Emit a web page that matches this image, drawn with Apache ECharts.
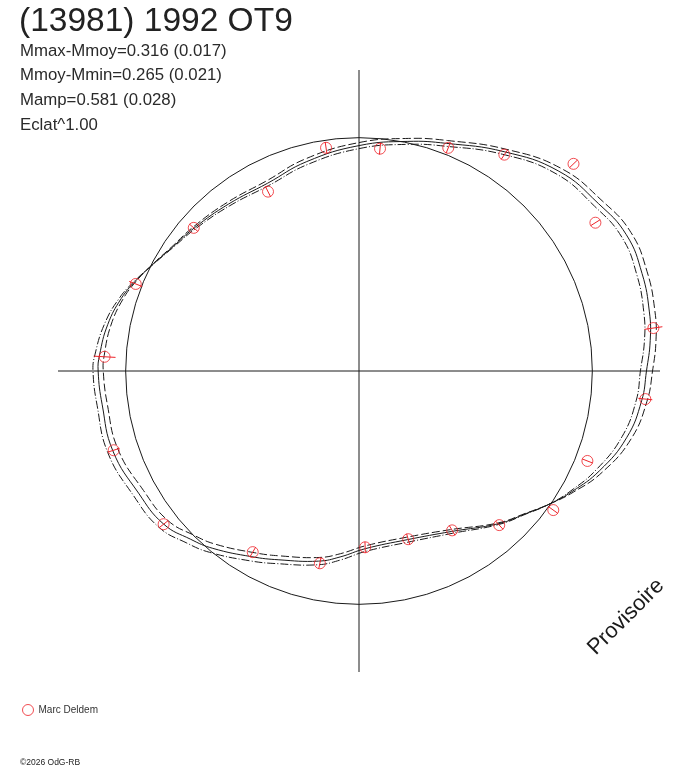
<!DOCTYPE html>
<html>
<head>
<meta charset="utf-8">
<title>(13981) 1992 OT9</title>
<script src="https://cdn.jsdelivr.net/npm/echarts@6/dist/echarts.min.js"></script>
<style>
  html, body { margin: 0; padding: 0; background: #fff; }
  #chart { width: 688px; height: 768px; }
</style>
</head>
<body>
<div id="chart"></div>
<script>
// phase in degrees (0 at top, clockwise), radius = relative brightness (1 = mean circle)
const curvePhase = [0, 12, 21, 33.5, 45, 55, 63, 71, 78.5, 84, 90, 96, 104, 112.5, 119.5, 125, 130.5, 137.5,
  150, 164, 178, 185.8, 192, 203, 210, 219.5, 225, 232, 241, 252, 262.5, 270, 273.5, 280.5, 287, 292, 297,
  303.5, 311, 322, 334, 346];
const fitMag = [0.966, 1.006, 1.045, 1.127, 1.211, 1.252, 1.286, 1.283, 1.270, 1.255, 1.232, 1.218, 1.182,
  1.116, 1.049, 0.995, 0.941, 0.887, 0.794, 0.752, 0.762, 0.801, 0.833, 0.879, 0.919, 0.985, 1.020, 1.064,
  1.080, 1.109, 1.110, 1.118, 1.114, 1.095, 1.065, 1.032, 0.997, 0.960, 0.935, 0.908, 0.895, 0.925];
const upperMag = [0.979, 1.019, 1.058, 1.140, 1.227, 1.272, 1.308, 1.306, 1.294, 1.280, 1.258, 1.241, 1.202,
  1.130, 1.055, 0.995, 0.939, 0.883, 0.785, 0.741, 0.750, 0.787, 0.817, 0.861, 0.899, 0.963, 0.997, 1.040,
  1.056, 1.086, 1.088, 1.096, 1.094, 1.081, 1.057, 1.029, 0.998, 0.963, 0.941, 0.917, 0.906, 0.938];
const lowerMag = [0.953, 0.993, 1.032, 1.114, 1.195, 1.232, 1.264, 1.260, 1.246, 1.230, 1.206, 1.195, 1.162,
  1.102, 1.043, 0.995, 0.943, 0.891, 0.803, 0.763, 0.774, 0.815, 0.849, 0.897, 0.939, 1.007, 1.043, 1.088,
  1.104, 1.132, 1.132, 1.140, 1.134, 1.109, 1.073, 1.035, 0.996, 0.957, 0.929, 0.899, 0.884, 0.912];

const obsPhase = [351.6, 5.4, 21.8, 33.9, 46.0, 57.9, 81.7, 95.6, 111.5, 125.6, 137.7, 149.7, 163.7, 178.0,
  191.5, 210.4, 231.9, 252.1, 273.2, 291.3, 310.9, 333.1];
const obsMag = [0.967, 0.957, 1.030, 1.117, 1.278, 1.196, 1.275, 1.233, 1.052, 1.024, 0.893, 0.791, 0.751,
  0.756, 0.841, 0.900, 1.064, 1.105, 1.092, 1.027, 0.937, 0.862];
const obsErr = [0.025, 0.025, 0.024, 0.024, 0.024, 0.024, 0.039, 0.030, 0.024, 0.024, 0.024, 0.024, 0.024,
  0.024, 0.024, 0.024, 0.024, 0.026, 0.047, 0.030, 0.024, 0.024];

const refMag = [1];
const infoLines = ['Mmax-Mmoy=0.316 (0.017)', 'Mmoy-Mmin=0.265 (0.021)', 'Mamp=0.581 (0.028)', 'Eclat^1.00'];

const ink = '#1a1a1a';
const red = '#ee2228';
const font = '"Liberation Sans", Arial, sans-serif';

// closed smooth curve through the polar points, positioned by the polar scales
function curve(mags, dash) {
  return {
    type: 'custom', coordinateSystem: 'polar', silent: true, clip: false,
    data: curvePhase.map((p, i) => [mags[i], p]),
    renderItem(params, api) {
      if (params.dataIndex !== 0) return;
      const pts = curvePhase.map((p, i) => api.coord([mags[i], p]));
      return {
        type: 'polygon',
        shape: { points: pts, smooth: 0.45 },
        style: { fill: 'none', stroke: ink, lineWidth: 1, lineDash: dash }
      };
    }
  };
}

const chart = echarts.init(document.getElementById('chart'));

chart.setOption({
  animation: false,
  backgroundColor: '#fff',
  polar: { center: [359, 371], radius: 301 },
  angleAxis: {
    type: 'value', min: 0, max: 360, interval: 90, startAngle: 90, clockwise: true,
    axisLine: { show: false }, axisTick: { show: false }, axisLabel: { show: false },
    splitLine: { show: true, lineStyle: { color: ink, width: 1 } }
  },
  radiusAxis: {
    type: 'value', min: 0, max: 1.29,
    axisLine: { show: false }, axisTick: { show: false }, axisLabel: { show: false },
    splitLine: { show: false }
  },
  legend: {
    data: ['Marc Deldem'], left: 17, top: 699, icon: 'circle', itemWidth: 11, itemHeight: 11,
    selectedMode: false,
    itemStyle: { color: 'transparent', borderColor: red, borderWidth: 1 },
    textStyle: { fontSize: 10, color: '#333', fontFamily: font }
  },
  graphic: [
    { type: 'text', x: 19, y: 22, style: { text: '(13981) 1992 OT9', font: '33.5px ' + font, fill: '#222', textVerticalAlign: 'middle', verticalAlign: 'middle' } },
    ...infoLines.map((t, i) => ({
      type: 'text', x: 20, y: 51 + i * 24.8,
      style: { text: t, font: '16.8px ' + font, fill: '#2a2a2a', textVerticalAlign: 'middle', verticalAlign: 'middle' }
    })),
    { type: 'text', x: 20, y: 763, style: { text: '©2026 OdG-RB', font: '8.5px ' + font, fill: '#222', textVerticalAlign: 'middle', verticalAlign: 'middle' } },
    { type: 'text', x: 626, y: 617, rotation: Math.PI / 4,
      style: { text: 'Provisoire', font: '22px ' + font, fill: ink, textAlign: 'center', align: 'center', textVerticalAlign: 'middle', verticalAlign: 'middle' } }
  ],
  series: [
    {
      // mean-brightness reference circle
      type: 'custom', coordinateSystem: 'polar', silent: true, clip: false,
      data: refMag.map(m => [m, 0]),
      renderItem(params, api) {
        const c = api.coord([0, 0]);
        const e = api.coord([api.value(0), 0]);
        return {
          type: 'circle',
          shape: { cx: c[0], cy: c[1], r: Math.hypot(e[0] - c[0], e[1] - c[1]) },
          style: { fill: 'none', stroke: ink, lineWidth: 1 }
        };
      }
    },
    curve(fitMag, null),
    curve(upperMag, [8, 3]),
    curve(lowerMag, [8, 2, 1, 2]),
    {
      // error bars, radial
      type: 'custom', coordinateSystem: 'polar', silent: true, clip: false,
      encode: { radius: 0, angle: 1 },
      data: obsPhase.map((p, i) => [obsMag[i], p, obsErr[i]]),
      renderItem(params, api) {
        const r = api.value(0), a = api.value(1), e = api.value(2);
        const p1 = api.coord([r - e, a]);
        const p2 = api.coord([r + e, a]);
        return {
          type: 'line',
          shape: { x1: p1[0], y1: p1[1], x2: p2[0], y2: p2[1] },
          style: { stroke: red, lineWidth: 1 }
        };
      }
    },
    {
      name: 'Marc Deldem', type: 'scatter', coordinateSystem: 'polar', clip: false,
      data: obsPhase.map((p, i) => [obsMag[i], p]),
      symbol: 'circle', symbolSize: 11,
      itemStyle: { color: 'transparent', borderColor: red, borderWidth: 1 }
    }
  ]
});
</script>
</body>
</html>
